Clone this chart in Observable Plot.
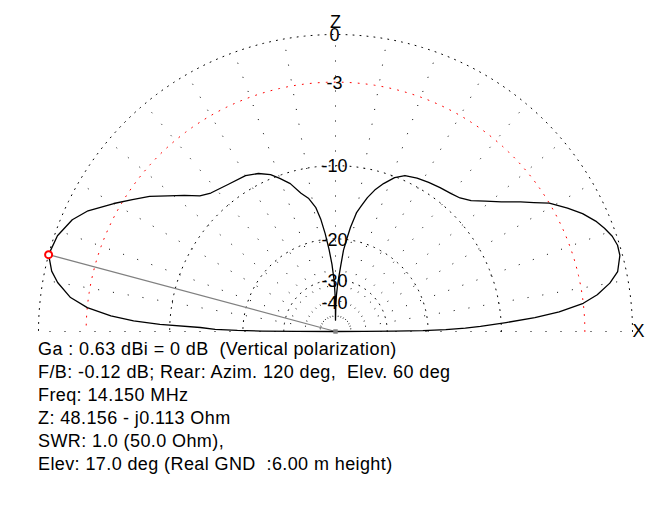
<!DOCTYPE html>
<html><head><meta charset="utf-8">
<script src="https://cdn.jsdelivr.net/npm/d3@7"></script>
<script src="https://cdn.jsdelivr.net/npm/@observablehq/plot@0.6"></script>
<style>
body{margin:0;background:#fff;font-family:Arial,"Liberation Sans",sans-serif}
#info{margin-left:38px;font-size:18px;letter-spacing:0.4px;line-height:23px;white-space:pre;color:#000}
svg{overflow:visible}
</style></head><body>
<div id="chart"></div>
<div id="info"></div>
<script>
// Elevation angle (deg, 0 = X side, 180 = opposite side) and gain (dB relative to max)
const angles = [0, 0.1, 0.3, 0.6, 1, 1.5, 2, 3, 4, 5, 6.5, 8, 10, 12, 15, 17, 19, 21, 23, 25.5, 28, 31, 33, 35, 38, 41, 44, 47, 50, 54, 58, 62, 66, 69, 72, 74.5, 76.6, 78.5, 80, 81.8, 83, 84.4, 85.5, 86.5, 87.5, 88.5, 89.3, 90,
  90.3, 90.8, 91.5, 93, 94.5, 96, 97.5, 99, 101.5, 104, 107, 110, 112.5, 116, 120, 126, 132, 135, 138, 141, 144, 147, 150, 154, 157, 161, 165, 168, 170, 172.7, 174.5, 176, 177, 177.7, 178.3, 179, 179.4, 179.7, 179.9, 180];
const gains = [-100, -40, -28, -21, -17, -14.2, -12.3, -9.5, -6.8, -4.8, -3.0, -2.0, -1.1, -0.5, -0.15, -0.12, -0.25, -0.52, -0.85, -1.4, -2.1, -3.0, -3.9, -4.7, -5.9, -6.9, -7.8, -8.35, -8.6, -8.8, -9.0, -9.2, -9.5, -10.1, -11.1, -12.1, -13.2, -14.5, -15.5, -17.8, -19.8, -22.2, -26, -29, -32, -36, -42, -56,
  -42, -35, -30.5, -25.5, -22, -19, -16.5, -14.8, -13.4, -12.6, -11.2, -10.3, -9.6, -9.0, -8.6, -8.4, -8.0, -7.5, -6.5, -5.5, -4.4, -3.5, -2.55, -1.3, -0.65, -0.17, 0, -0.4, -0.88, -1.82, -3.0, -4.75, -6.6, -9.0, -13.5, -15.5, -19, -24, -35, -100];

const ringLevels = [0, -10, -20, -30];
const redRingLevel = -3;
const labelLevels = [0, -3, -10, -20, -30, -40];
const labelTexts = ["0", "-3", "-10", "-20", "-30", "-40"];
const spokeAngles = d3.range(0, 181, 10);
const maxAngle = 165, maxGain = 0;
const infoLines = [
  "Ga : 0.63 dBi = 0 dB  (Vertical polarization)",
  "F/B: -0.12 dB; Rear: Azim. 120 deg,  Elev. 60 deg",
  "Freq: 14.150 MHz",
  "Z: 48.156 - j0.113 Ohm",
  "SWR: 1.0 (50.0 Ohm),",
  "Elev: 17.0 deg (Real GND  :6.00 m height)"
];

// ARRL log scale: 0.89 per 2 dB
const rOf = db => Math.pow(0.89, -db / 2);
const rad = a => a * Math.PI / 180;
const px = (a, db) => rOf(db) * Math.cos(rad(a));
const py = (a, db) => rOf(db) * Math.sin(rad(a));

const pattern = angles.map((a, i) => ({x: px(a, gains[i]), y: py(a, gains[i])}));
const arc = lvl => d3.range(0, 180.01, 1).map(a => ({x: px(a, lvl), y: py(a, lvl), lvl}));
const blackRings = ringLevels.flatMap(arc);
const redRing = arc(redRingLevel);
const spokes = spokeAngles.map(a => ({x1: 0, y1: 0, x2: px(a, 0), y2: py(a, 0)}));
const labels = labelLevels.map((l, i) => ({x: 0, y: rOf(l), t: labelTexts[i]}));
const maxPt = {x: px(maxAngle, maxGain), y: py(maxAngle, maxGain)};

const chart = Plot.plot({
  width: 647, height: 338,
  marginTop: 0, marginBottom: 0, marginLeft: 0, marginRight: 0,
  x: {domain: [-1, 1], range: [38, 632], axis: null},
  y: {domain: [0, 1], range: [331, 34], axis: null},
  style: {fontFamily: "Arial, 'Liberation Sans', sans-serif", fontSize: "18px", background: "#fff", overflow: "visible"},
  marks: [
    Plot.link(spokes, {x1: "x1", y1: "y1", x2: "x2", y2: "y2", stroke: "#000", strokeWidth: 1, strokeDasharray: "1,14"}),
    Plot.line(blackRings, {x: "x", y: "y", z: "lvl", stroke: "#000", strokeWidth: 1, strokeDasharray: "1,6"}),
    Plot.line(redRing, {x: "x", y: "y", stroke: "#ff0000", strokeWidth: 1, strokeDasharray: "1,7"}),
    Plot.text(labels, {x: "x", y: "y", text: "t", fill: "#000", fontSize: 18, dx: -1, dy: 1}),
    Plot.text([{x: 0, y: 1}], {x: "x", y: "y", text: () => "Z", fill: "#000", fontSize: 18, dy: -12}),
    Plot.text([{x: 1, y: 0}], {x: "x", y: "y", text: () => "X", fill: "#000", fontSize: 18, textAnchor: "start", dx: 0}),
    Plot.link([maxPt], {x1: "x", y1: "y", x2: () => 0, y2: () => 0, stroke: "#808080", strokeWidth: 1.2}),
    Plot.line(pattern, {x: "x", y: "y", stroke: "#000", strokeWidth: 1.3, curve: "linear"}),
    Plot.dot([{x: 0, y: 0}], {x: "x", y: "y", symbol: "square", r: 2.5, fill: "#808080"}),
    Plot.dot([maxPt], {x: "x", y: "y", r: 3.5, stroke: "#ff0000", strokeWidth: 2, fill: "#fff"})
  ]
});
document.getElementById("chart").appendChild(chart);
document.getElementById("info").textContent = infoLines.join("\n");
</script>
</body></html>
